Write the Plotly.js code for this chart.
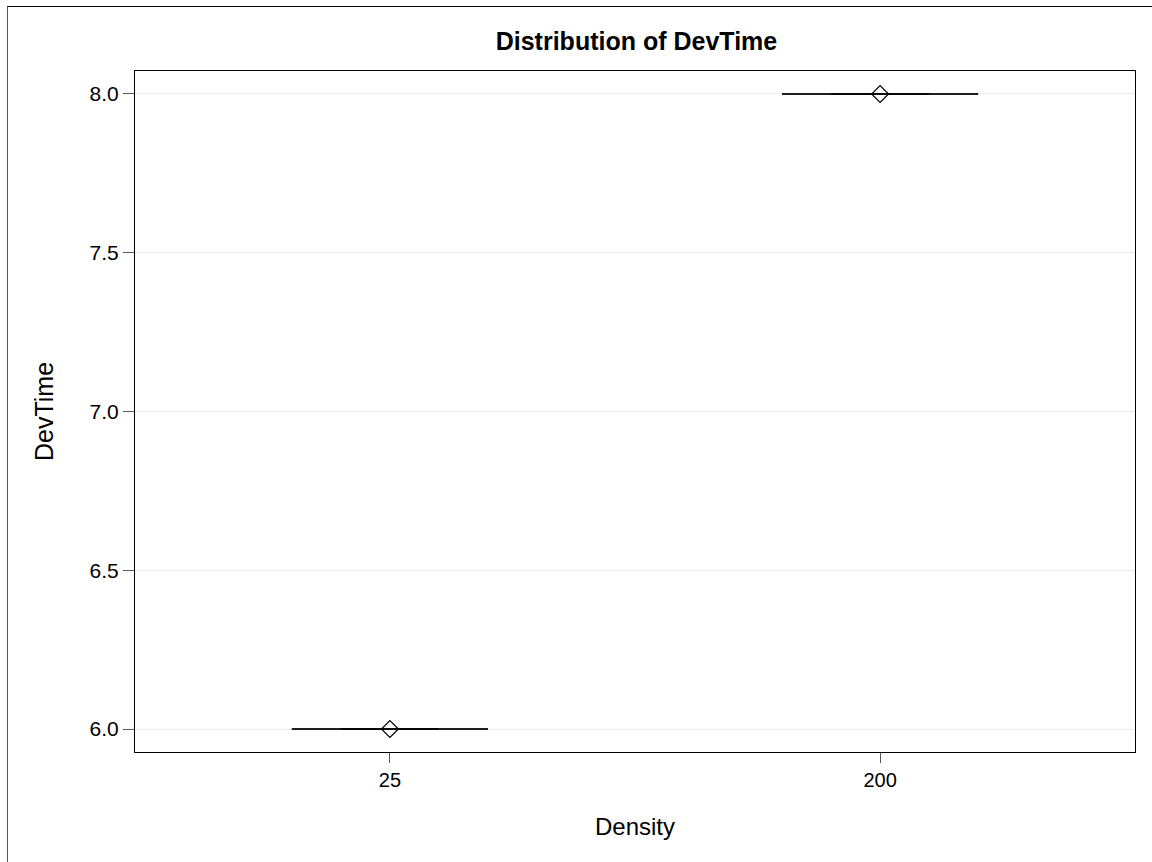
<!DOCTYPE html>
<html>
<head>
<meta charset="utf-8">
<script src="https://cdn.plot.ly/plotly-3.0.1.min.js"></script>
<style>
html,body{margin:0;padding:0;background:#fff;}
#chart{width:1152px;height:862px;}
#frame{position:absolute;left:7px;top:6px;width:1200px;height:900px;border-left:1px solid #555;border-top:1px solid #000;pointer-events:none;}
</style>
</head>
<body>
<div id="chart"></div>
<div id="frame"></div>
<script>
const densities = ['25', '200'];
const minVals = [6, 8];
const q1Vals = [6, 8];
const medianVals = [6, 8];
const q3Vals = [6, 8];
const maxVals = [6, 8];
const meanVals = [6, 8];
const yTicks = [6.0, 6.5, 7.0, 7.5, 8.0];

const font = '"Liberation Sans", Arial, Helvetica, sans-serif';

const boxTrace = {
  type: 'box',
  x: densities,
  q1: q1Vals,
  median: medianVals,
  q3: q3Vals,
  lowerfence: minVals,
  upperfence: maxVals,
  width: 0.4,
  whiskerwidth: 0.5,
  line: {color: '#000', width: 1},
  fillcolor: 'rgba(0,0,0,0)',
  boxpoints: false,
  hoverinfo: 'skip',
  showlegend: false
};

const meanTrace = {
  type: 'scatter',
  mode: 'markers',
  x: densities,
  y: meanVals,
  marker: {symbol: 'diamond-open', size: 13, color: '#000', line: {color: '#000', width: 1.2}},
  showlegend: false,
  hoverinfo: 'skip'
};

const layout = {
  width: 1152,
  height: 862,
  margin: {l: 135, r: 17, t: 71, b: 110},
  paper_bgcolor: '#fff',
  plot_bgcolor: '#fff',
  font: {family: font, color: '#000', size: 20},
  title: {
    text: '<b>Distribution of DevTime</b>',
    font: {family: font, size: 25, color: '#000'},
    x: 0.5525, xanchor: 'center',
    y: 1 - 41/862, yanchor: 'middle'
  },
  xaxis: {
    type: 'category',
    categoryorder: 'array',
    categoryarray: densities,
    range: [-0.52, 1.52],
    showline: true, mirror: true, linecolor: '#000', linewidth: 1,
    ticks: 'outside', ticklen: 10, tickcolor: '#555', tickwidth: 1,
    showgrid: false, zeroline: false,
    tickfont: {family: font, size: 20, color: '#000'},
    title: {text: 'Density', font: {family: font, size: 24, color: '#000'}, standoff: 28}
  },
  yaxis: {
    range: [5.9276, 8.0724],
    tickvals: yTicks,
    ticktext: yTicks.map(v => v.toFixed(1)),
    showline: true, mirror: true, linecolor: '#000', linewidth: 1,
    ticks: 'outside', ticklen: 11, tickcolor: '#555', tickwidth: 1,
    showgrid: true, gridcolor: '#ececec', gridwidth: 1,
    zeroline: false,
    tickfont: {family: font, size: 21, color: '#000'},
    title: {text: 'DevTime', font: {family: font, size: 25, color: '#000'}, standoff: 28}
  }
};

Plotly.newPlot('chart', [boxTrace, meanTrace], layout, {displayModeBar: false, staticPlot: true});
</script>
</body>
</html>
